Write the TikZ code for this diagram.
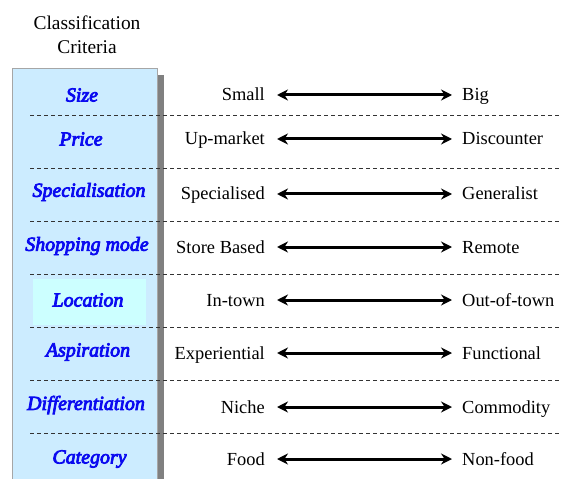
\documentclass[tikz,border=0pt]{standalone}
\usepackage{fontspec}
\setmainfont{Liberation Serif}
\newfontfamily\critfont{Liberation Serif}[ItalicFeatures={FakeBold=4}]
\usepackage{xcolor}
\usepackage{tikz}
\usetikzlibrary{arrows.meta}
\usetikzlibrary{positioning}

\definecolor{boxblue}{RGB}{204,236,255}
\definecolor{hlcyan}{RGB}{204,255,255}
\definecolor{critblue}{RGB}{10,10,240}
\definecolor{shadowgray}{RGB}{128,128,128}

\tikzset{
  crit/.style={font=\critfont\fontsize{20}{22}\selectfont\itshape, text=critblue, inner sep=0pt},
  pole/.style={font=\fontsize{18.5}{20}\selectfont, text height=12bp, text depth=0bp, inner sep=3bp},
  polearrow/.style={{Stealth[length=11bp,width=11bp]}-{Stealth[length=11bp,width=11bp]}, line width=3bp, shorten <=9bp, shorten >=7bp},
  rowsep/.style={dash pattern=on 4bp off 3bp, line width=0.8bp, draw=black!80}
}

\begin{document}
\begin{tikzpicture}[x=1bp, y=-1bp]
\useasboundingbox (0,0) rectangle (562,479);

% column of criteria
\fill [shadowgray] (157,75) rectangle (164,479);
\fill [boxblue] (12,69) rectangle (157,479);
\draw [draw=black!35, line width=1bp] (12,479) -- (12,69) -- (157,69) -- (157,479);
\fill [hlcyan] (33,279) rectangle (146,325);

\node [align=center, font=\fontsize{19.5}{24}\selectfont] (title) at (87,35) {Classification\\Criteria};

% separators
\draw [rowsep] (30,115) -- (562,115);
\draw [rowsep] (30,168) -- (562,168);
\draw [rowsep] (30,221) -- (562,221);
\draw [rowsep] (30,274) -- (562,274);
\draw [rowsep] (30,327) -- (562,327);
\draw [rowsep] (30,380) -- (562,380);
\draw [rowsep] (30,433) -- (562,433);

% criteria
\node [crit] (size) at (82,95) {Size};
\node [crit] (price) at (81,139) {Price};
\node [crit] (spec) at (89,192) {Specialisation};
\node [crit] (shop) at (87,246) {Shopping mode};
\node [crit] (loc) at (88,300) {Location};
\node [crit] (asp) at (88,352) {Aspiration};
\node [crit] (diff) at (86,405) {Differentiation};
\node [crit] (cat) at (89.5,459) {Category};

% poles
\node [pole, anchor=east] (small) at (268,95) {Small};
\node [pole, anchor=west] (big) at (459,95) {Big};
\node [pole, anchor=east] (upm) at (268,139) {Up-market};
\node [pole, anchor=west] (disc) at (459,139) {Discounter};
\node [pole, anchor=east] (special) at (268,194) {Specialised};
\node [pole, anchor=west] (general) at (459,194) {Generalist};
\node [pole, anchor=east] (store) at (268,247) {Store Based};
\node [pole, anchor=west] (remote) at (459,247) {Remote};
\node [pole, anchor=east] (intown) at (268,300) {In-town};
\node [pole, anchor=west] (outtown) at (459,300) {Out-of-town};
\node [pole, anchor=east] (exper) at (268,353) {Experiential};
\node [pole, anchor=west] (func) at (459,353) {Functional};
\node [pole, anchor=east] (niche) at (268,407) {Niche};
\node [pole, anchor=west] (comm) at (459,407) {Commodity};
\node [pole, anchor=east] (food) at (268,459) {Food};
\node [pole, anchor=west] (nonfood) at (459,459) {Non-food};

\draw [polearrow] (small) -- (big);
\draw [polearrow] (upm) -- (disc);
\draw [polearrow] (special) -- (general);
\draw [polearrow] (store) -- (remote);
\draw [polearrow] (intown) -- (outtown);
\draw [polearrow] (exper) -- (func);
\draw [polearrow] (niche) -- (comm);
\draw [polearrow] (food) -- (nonfood);
\end{tikzpicture}
\end{document}
